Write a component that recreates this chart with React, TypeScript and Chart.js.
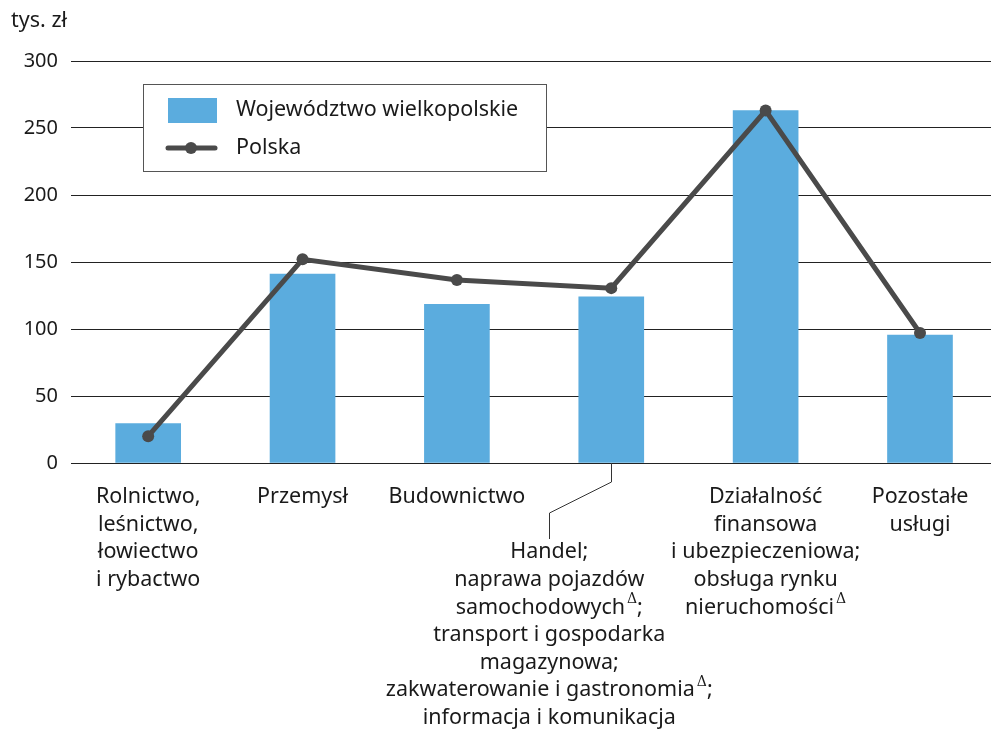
import React, { useEffect, useRef } from "react";
import { Chart, registerables } from "chart.js";
Chart.register(...registerables);

const categoryLabels: string[][] = [
  ["Rolnictwo,", "leśnictwo,", "łowiectwo", "i rybactwo"],
  ["Przemysł"],
  ["Budownictwo"],
  [
    "Handel;",
    "naprawa pojazdów",
    "samochodowych{Δ};",
    "transport i gospodarka",
    "magazynowa;",
    "zakwaterowanie i gastronomia{Δ};",
    "informacja i komunikacja",
  ],
  ["Działalność", "finansowa", "i ubezpieczeniowa;", "obsługa rynku", "nieruchomości{Δ}"],
  ["Pozostałe", "usługi"],
];
const wielkopolskie = [29.5, 141, 118.5, 124, 263, 95.5];
const polska = [20, 152, 136.5, 130.5, 263, 97];
const yTickValues = [0, 50, 100, 150, 200, 250, 300];
const seriesNames = ["Województwo wielkopolskie", "Polska"];
const yUnit = "tys. zł";

const FONT = "'Noto Sans', sans-serif";
const FS = 21.5;
const BAR_COLOR = "#5BACDE";
const LINE_COLOR = "#4A4A4A";
const TEXT_COLOR = "#1A1A1A";

function drawRichLine(ctx: CanvasRenderingContext2D, text: string, cx: number, y: number) {
  const parts = text.split("{Δ}");
  const segs: { t: string; sup: boolean }[] = [];
  parts.forEach((p, i) => {
    if (p) segs.push({ t: p, sup: false });
    if (i < parts.length - 1) segs.push({ t: "Δ", sup: true });
  });
  const normalFont = `${FS}px ${FONT}`;
  const supFont = `14px 'DejaVu Serif', serif`;
  let total = 0;
  const widths = segs.map((s) => {
    ctx.font = s.sup ? supFont : normalFont;
    const w = ctx.measureText(s.t).width + (s.sup ? 2 : 0);
    total += w;
    return w;
  });
  let x = cx - total / 2;
  ctx.textAlign = "left";
  ctx.textBaseline = "middle";
  segs.forEach((s, i) => {
    ctx.font = s.sup ? supFont : normalFont;
    ctx.fillText(s.t, x + (s.sup ? 2 : 0), s.sup ? y - 8 : y);
    x += widths[i];
  });
}

const customPlugin = {
  id: "customDecor",
  afterDraw(chart: any) {
    const ctx: CanvasRenderingContext2D = chart.ctx;
    const xs = chart.scales.x;
    const area = chart.chartArea;
    ctx.save();
    ctx.fillStyle = TEXT_COLOR;
    ctx.font = `${FS}px ${FONT}`;
    ctx.textAlign = "left";
    ctx.textBaseline = "middle";
    ctx.fillText(yUnit, 11, 21);

    const lineH = 27.6;
    const firstY = area.bottom + 34;
    categoryLabels.forEach((lines, i) => {
      const cx = xs.getPixelForValue(i);
      let labelX = cx;
      let startY = firstY;
      if (i === 3) {
        labelX = cx - 62;
        startY = firstY + 2 * lineH;
        ctx.strokeStyle = "#333";
        ctx.lineWidth = 1;
        ctx.beginPath();
        ctx.moveTo(Math.round(cx) + 0.5, area.bottom);
        ctx.lineTo(Math.round(cx) + 0.5, area.bottom + 19);
        ctx.lineTo(Math.round(labelX) + 0.5, area.bottom + 50);
        ctx.lineTo(Math.round(labelX) + 0.5, area.bottom + 76);
        ctx.stroke();
      }
      lines.forEach((ln, j) => drawRichLine(ctx, ln, labelX, startY + j * lineH));
    });

    const lx = 143.5, ly = 84.5, lw = 403, lh = 87;
    ctx.fillStyle = "#fff";
    ctx.fillRect(lx, ly, lw, lh);
    ctx.strokeStyle = "#555";
    ctx.lineWidth = 1;
    ctx.strokeRect(lx, ly, lw, lh);
    ctx.fillStyle = BAR_COLOR;
    ctx.fillRect(168, 98, 49, 25);
    ctx.strokeStyle = LINE_COLOR;
    ctx.lineWidth = 5;
    ctx.lineCap = "round";
    ctx.beginPath();
    ctx.moveTo(168, 148);
    ctx.lineTo(215, 148);
    ctx.stroke();
    ctx.fillStyle = LINE_COLOR;
    ctx.beginPath();
    ctx.arc(191, 148, 6, 0, Math.PI * 2);
    ctx.fill();
    ctx.fillStyle = TEXT_COLOR;
    ctx.font = `${FS}px ${FONT}`;
    ctx.textAlign = "left";
    ctx.textBaseline = "middle";
    ctx.fillText(seriesNames[0], 236, 110);
    ctx.fillText(seriesNames[1], 236, 148);
    ctx.restore();
  },
};

export default function App() {
  const ref = useRef<HTMLCanvasElement>(null);
  useEffect(() => {
    document.body.style.margin = "0";
    document.body.style.overflow = "hidden";
    const chart = new Chart(ref.current!, {
      type: "bar",
      data: {
        datasets: [
          {
            type: "line",
            label: seriesNames[1],
            data: polska.map((v, i) => ({ x: i, y: v })),
            borderColor: LINE_COLOR,
            backgroundColor: LINE_COLOR,
            borderWidth: 5,
            pointRadius: 6,
            pointBackgroundColor: LINE_COLOR,
            pointBorderWidth: 0,
            tension: 0,
            order: 0,
          } as any,
          {
            type: "bar",
            label: seriesNames[0],
            data: wielkopolskie.map((v, i) => ({ x: i, y: v })),
            backgroundColor: BAR_COLOR,
            barThickness: 65,
            order: 1,
          },
        ],
      },
      options: {
        animation: false,
        responsive: false,
        maintainAspectRatio: false,
        layout: { autoPadding: false, padding: { top: 61, bottom: 266, left: 0, right: 0 } },
        plugins: { legend: { display: false }, tooltip: { enabled: false } },
        scales: {
          x: {
            type: "linear",
            min: -0.5,
            max: 5.46,
            offset: false,
            display: false,
          },
          y: {
            min: 0,
            max: 300,
            afterBuildTicks: (scale: any) => {
              scale.ticks = yTickValues.map((v) => ({ value: v }));
            },
            afterFit: (scale: any) => {
              scale.width = 71;
            },
            border: { display: false },
            grid: { color: "#222", lineWidth: 1, drawTicks: false },
            ticks: {
              color: TEXT_COLOR,
              font: { family: FONT, size: 20 },
              padding: 13,
            },
          },
        },
      },
      plugins: [customPlugin],
    });
    return () => chart.destroy();
  }, []);
  return (
    <div style={{ width: 991, height: 729, position: "relative" }}>
      <canvas ref={ref} width={991} height={729} style={{ display: "block" }} />
    </div>
  );
}
